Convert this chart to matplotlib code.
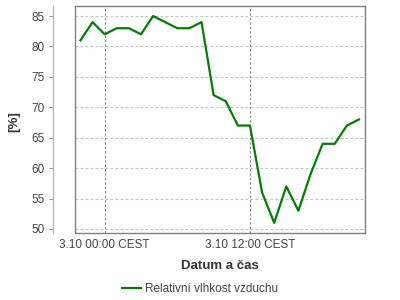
import matplotlib
matplotlib.use("Agg")
import matplotlib.pyplot as plt
from matplotlib.lines import Line2D

plt.rcParams['font.family'] = ['Liberation Sans', 'DejaVu Sans']

hours = list(range(-2, 22))
humidity = [81, 84, 82, 83, 83, 82, 85, 84, 83, 83, 84, 72,
            71, 67, 67, 56, 51, 57, 53, 59, 64, 64, 67, 68]
xtick_pos = [0, 12]
xtick_labels = ["3.10 00:00 CEST", "3.10 12:00 CEST"]
yticks = [50, 55, 60, 65, 70, 75, 80, 85]
series_name = "Relativní vlhkost vzduchu"

fig = plt.figure(figsize=(4, 3), dpi=100)
ax = fig.add_axes([75/400, 1 - 233/300, 290/400, 227/300])

ax.plot(hours, humidity, color='#008000', lw=1.6, zorder=3)
ax.set_xlim(-2.45, 21.5)
ax.set_ylim(49.34, 86.65)

ax.set_yticks(yticks)
ax.set_xticks(xtick_pos)
ax.set_xticklabels(xtick_labels)

for y in yticks:
    ax.axhline(y, color='#c4c4c4', lw=0.8, ls=(0, (2.5, 2)), zorder=1)
for x in xtick_pos:
    ax.axvline(x, color='#888888', lw=0.8, ls=(0, (2, 2)), zorder=1)

for s in ['top', 'right', 'bottom']:
    ax.spines[s].set_color('#808080')
    ax.spines[s].set_linewidth(1.0)
ax.spines['left'].set_position(('outward', 22 * 72 / 100))
ax.spines['left'].set_color('#bbbbbb')
ax.spines['left'].set_linewidth(1.0)
ax.plot([0, 0], [0, 1], transform=ax.transAxes, color='#808080', lw=1.0, clip_on=False, zorder=4)

ax.tick_params(axis='y', length=3, width=0.8, color='#999999', labelcolor='#444444', labelsize=8.5, pad=3)
ax.tick_params(axis='x', length=0, labelcolor='#444444', labelsize=8.5, pad=4)

ax.set_xlabel("Datum a čas", fontsize=9.5, fontweight='bold', color='#333333', labelpad=7)
ax.set_ylabel("[%]", fontsize=9.5, fontweight='bold', color='#333333')
ax.yaxis.set_label_coords(-0.19, 0.489)

handle = Line2D([], [], color='#008000', lw=1.6)
fig.legend([handle], [series_name], loc='center', bbox_to_anchor=(0.5, 1 - 289/300),
           frameon=False, fontsize=8.5, handlelength=1.6, handletextpad=0.4,
           labelcolor='#444444')

fig.savefig("out.png", dpi=100)
